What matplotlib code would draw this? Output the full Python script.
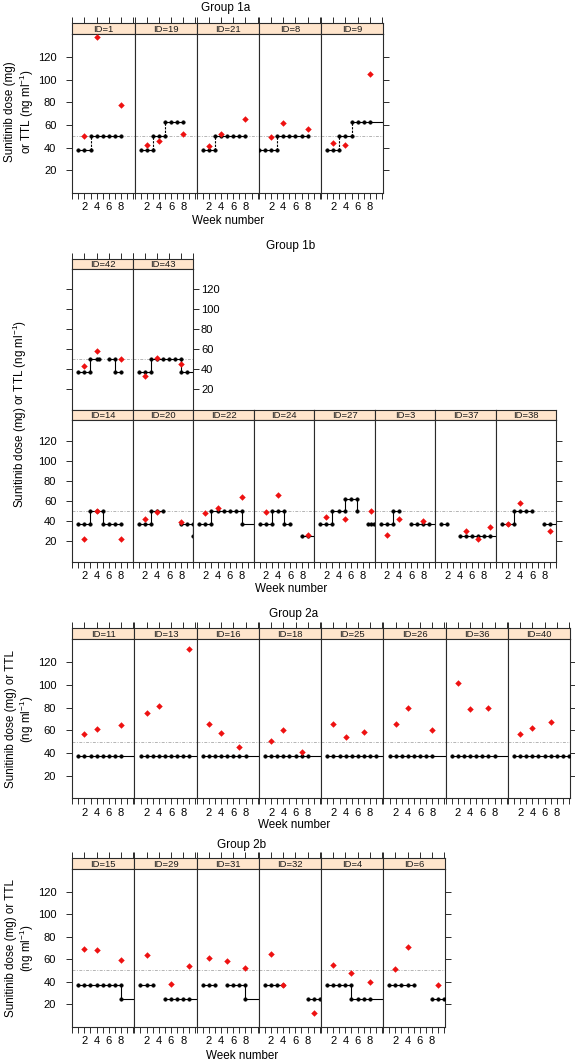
import numpy as np
import matplotlib
matplotlib.use("Agg")
import matplotlib.pyplot as plt

# ── data: dose steps (black) and trough levels (red) per patient ─────────────
# None breaks the dose line (missing weeks); points past the axis edge only
# make the line run out of the panel.
g1a_ids = ["ID=1", "ID=19", "ID=21", "ID=8", "ID=9"]
g1a_dose_wk = [
    [1, 2, 3, 3, 4, 5, 6, 7, 8],
    [1, 2, 3, 3, 4, 5, 5, 6, 7, 8],
    [1, 2, 3, 3, 4, 5, 6, 7, 8],
    [0, 1, 2, 3, 3, 4, 5, 6, 7, 8],
    [1, 2, 3, 3, 4, 5, 5, 6, 7, 8, 11],
]
g1a_dose_mg = [
    [37.5, 37.5, 37.5, 50, 50, 50, 50, 50, 50],
    [37.5, 37.5, 37.5, 50, 50, 50, 62.5, 62.5, 62.5, 62.5],
    [37.5, 37.5, 37.5, 50, 50, 50, 50, 50, 50],
    [37.5, 37.5, 37.5, 37.5, 50, 50, 50, 50, 50, 50],
    [37.5, 37.5, 37.5, 50, 50, 50, 62.5, 62.5, 62.5, 62.5, 62.5],
]
g1a_ttl_wk = [[2, 4, 8], [2, 4, 8], [2, 4, 8], [2, 4, 8], [2, 4, 8]]
g1a_ttl = [[50, 138, 78], [42, 46, 52], [41, 52, 65], [49.5, 62, 56], [44, 42, 105]]

g1b_ids = ["ID=42", "ID=43", "ID=14", "ID=20", "ID=22", "ID=24", "ID=27",
           "ID=3", "ID=37", "ID=38"]
g1b_dose_wk = [
    [1, 2, 3, 3, 4, 4.4, None, 6, 7, 7, 8],
    [1, 2, 3, 3, 4, 5, 6, 7, 8, 8, 9, 11],
    [1, 2, 3, 3, 4, 5, 5, 6, 7, 8],
    [1, 2, 3, 3, 4, 5, None, 8, 9, 10, 10],
    [1, 2, 3, 3, 4, 5, 6, 7, 8, 8, 11],
    [1, 2, 3, 3, 4, 5, 5, 6, None, 8, 9, 11],
    [1, 2, 3, 3, 4, 5, 5, 6, 7, 7, None, 8.8, 9.3, 9.8],
    [1, 2, 3, 3, 4, None, 6, 7, 8, 9, 11],
    [1, 2, None, 4, 5, 6, 7, 8, 9, 11],
    [1, 2, 3, 3, 4, 5, 6, None, 8, 9, 11],
]
g1b_dose_mg = [
    [37.5, 37.5, 37.5, 50, 50, 50, None, 50, 50, 37.5, 37.5],
    [37.5, 37.5, 37.5, 50, 50, 50, 50, 50, 50, 37.5, 37.5, 37.5],
    [37.5, 37.5, 37.5, 50, 50, 50, 37.5, 37.5, 37.5, 37.5],
    [37.5, 37.5, 37.5, 50, 50, 50, None, 37.5, 37.5, 37.5, 25],
    [37.5, 37.5, 37.5, 50, 50, 50, 50, 50, 50, 37.5, 37.5],
    [37.5, 37.5, 37.5, 50, 50, 50, 37.5, 37.5, None, 25, 25, 25],
    [37.5, 37.5, 37.5, 50, 50, 50, 62.5, 62.5, 62.5, 50, None, 37.5, 37.5, 37.5],
    [37.5, 37.5, 37.5, 50, 50, None, 37.5, 37.5, 37.5, 37.5, 37.5],
    [37.5, 37.5, None, 25, 25, 25, 25, 25, 25, 25],
    [37.5, 37.5, 37.5, 50, 50, 50, 50, None, 37.5, 37.5, 37.5],
]
g1b_ttl_wk = [[2, 4, 8], [2, 4, 8], [2, 4, 8], [2, 4, 8], [2, 4, 8],
              [2, 4, 9], [2, 5, 9.3], [2, 4, 8], [5, 7, 9], [2, 4, 9]]
g1b_ttl = [[43, 58, 50], [33, 51, 45], [22, 50, 22], [42, 49, 39], [48, 53, 64],
           [49, 66, 26], [44, 42, 50], [26, 42, 40], [30, 22, 34], [37.5, 58, 30]]

g2a_ids = ["ID=11", "ID=13", "ID=16", "ID=18", "ID=25", "ID=26", "ID=36", "ID=40"]
g2a_dose_wk = [
    [1, 2, 3, 4, 5, 6, 7, 8, 11],
    [1, 2, 3, 4, 5, 6, 7, 8, 9, 11],
    [1, 2, 3, 4, 5, 6, 7, 8, 11],
    [1, 2, 3, 4, 5, 6, 7, 8, 11],
    [1, 2, 3, 4, 5, 6, 7, 8, 9, 11],
    [1, 2, 3, 4, 5, 6, 7, 8, 11],
    [1, 2, 3, 4, 5, 6, 7, 8, 11],
    [1, 2, 3, 4, 5, 6, 7, 8, 9, 10, 11],
]
g2a_dose_mg = [[37.5] * len(w) for w in g2a_dose_wk]
g2a_ttl_wk = [[2, 4, 8], [2, 4, 9], [2, 4, 7], [2, 4, 7],
              [2, 4, 7], [2, 4, 8], [2, 4, 7], [2, 4, 7]]
g2a_ttl = [[57, 61, 65], [75, 82, 132], [66, 58, 45], [51, 60, 41],
           [66, 54, 59], [66, 80, 60], [102, 79, 80], [57, 62, 67]]

g2b_ids = ["ID=15", "ID=29", "ID=31", "ID=32", "ID=4", "ID=6"]
g2b_dose_wk = [
    [1, 2, 3, 4, 5, 6, 7, 8, 8, 11],
    [1, 2, 3, None, 5, 6, 7, 8, 9, 11],
    [1, 2, 3, None, 5, 6, 7, 8, 8, 11],
    [1, 2, 3, 4, None, 8, 9, 10],
    [1, 2, 3, 4, 5, 5, 6, 7, 8, 11],
    [1, 2, 3, 4, 5, None, 8, 9, 10],
]
g2b_dose_mg = [
    [37.5, 37.5, 37.5, 37.5, 37.5, 37.5, 37.5, 37.5, 25, 25],
    [37.5, 37.5, 37.5, None, 25, 25, 25, 25, 25, 25],
    [37.5, 37.5, 37.5, None, 37.5, 37.5, 37.5, 37.5, 25, 25],
    [37.5, 37.5, 37.5, 37.5, None, 25, 25, 25],
    [37.5, 37.5, 37.5, 37.5, 37.5, 25, 25, 25, 25, 25],
    [37.5, 37.5, 37.5, 37.5, 37.5, None, 25, 25, 25],
]
g2b_ttl_wk = [[2, 4, 8], [2, 6, 9], [2, 5, 8], [2, 4, 9], [2, 5, 8], [2, 4, 9]]
g2b_ttl = [[69, 68.5, 59], [64, 38, 54], [61, 58, 52], [65, 37.5, 12.5],
           [55, 48, 40], [51, 71, 37]]

YTICKS = [20, 40, 60, 80, 100, 120]
XLABELS = {2: "2", 4: "4", 6: "6", 8: "8"}

# ── style ────────────────────────────────────────────────────────────────────
plt.rcParams["font.family"] = ["Liberation Sans", "DejaVu Sans"]
plt.rcParams["mathtext.fontset"] = "custom"
plt.rcParams["mathtext.rm"] = "Liberation Sans"
plt.rcParams["mathtext.it"] = "Liberation Sans:italic"

W, H = 575, 1064
STRIP_COL = "#ffe5cc"
EDGE = "#2b2b2b"
RED = "#ee1111"
YMAX = 140.5
FS_TICK = 8.0
FS_LAB = 8.4
FS_TITLE = 8.5
FS_STRIP = 6.8

fig = plt.figure(figsize=(W / 100, H / 100), dpi=100)


def box(x, y, w, h):
    # axes from pixel coordinates measured from the top-left corner
    return fig.add_axes([x / W, 1 - (y + h) / H, w / W, h / H])


def nan_list(v):
    return np.array([np.nan if a is None else a for a in v], dtype=float)


def panel(x, y, w, h, sh, label, dwk, dmg, twk, ttl, xmax, vdash=False):
    st = box(x, y - sh, w, sh)
    st.set_facecolor(STRIP_COL)
    st.set_xlim(0, xmax)
    st.set_ylim(0, 1)
    st.set_xticks([])
    st.set_yticks([])
    st.text(0.5, 0.45, label, transform=st.transAxes, ha="center", va="center",
            fontsize=FS_STRIP, color="#1a1a1a")

    ax = box(x, y, w, h)
    ax.set_xlim(0, xmax)
    ax.set_ylim(0, YMAX)
    ax.axhline(50, color="#b5b5b5", lw=0.7, ls=(0, (3, 1.5, 1, 1.5)), zorder=1)
    xs, ys = nan_list(dwk), nan_list(dmg)
    for i in range(len(xs) - 1):
        if np.isnan(xs[i]) or np.isnan(xs[i + 1]):
            continue
        vert = xs[i] == xs[i + 1]
        ls = (0, (2, 1.2)) if (vert and vdash) else "-"
        ax.plot(xs[i:i + 2], ys[i:i + 2], color="k", lw=0.8, ls=ls, zorder=2)
    ax.plot(xs, ys, "o", ms=2.6, color="k", mec="k", mew=0.3, zorder=3)
    ax.plot(twk, ttl, "D", ms=3.3, color=RED, mec="none", zorder=4)
    ax.set_xticks([])
    ax.set_yticks([])
    for a in (ax, st):
        for s in a.spines.values():
            s.set_color(EDGE)
            s.set_linewidth(0.8)
    return ax, st


def top_ticks(st):
    st.set_xticks(range(0, 11, 2))
    st.tick_params(axis="x", top=True, bottom=False, labeltop=False,
                   labelbottom=False, direction="out", length=4, width=0.7,
                   color=EDGE)


def bottom_ticks(ax):
    ax.set_xticks(range(0, 11))
    ax.set_xticklabels([XLABELS.get(k, "") for k in range(0, 11)])
    ax.tick_params(axis="x", bottom=True, direction="out", length=4, width=0.7,
                   pad=3, labelsize=FS_TICK, color=EDGE)


def y_ticks(ax, side, labels):
    ax.set_yticks(YTICKS)
    kw = dict(left=False, right=False, labelleft=False, labelright=False)
    kw[side] = True
    if labels:
        kw["label" + side] = True
    ax.tick_params(axis="y", direction="out", length=4, width=0.7,
                   pad=7.5 if side == "left" else 1.5, labelsize=FS_TICK,
                   color=EDGE, **kw)


def row(x0, y0, pw, ph, sh, ids, dwk, dmg, twk, ttl, xmax, vdash=False):
    out = []
    for i in range(len(ids)):
        out.append(panel(x0 + i * pw, y0, pw, ph, sh, ids[i], dwk[i], dmg[i],
                         twk[i], ttl[i], xmax, vdash))
    return out


def ftext(x, y, s, **kw):
    fig.text(x / W, 1 - y / H, s, ha="center", va="center", **kw)


UNIT = "(ng ml$^{-1}$)"

# Group 1a
p = row(72.3, 34, 62.2, 158.7, 10.7, g1a_ids, g1a_dose_wk, g1a_dose_mg,
        g1a_ttl_wk, g1a_ttl, 10.2, vdash=True)
for ax, st in p:
    top_ticks(st)
    bottom_ticks(ax)
y_ticks(p[0][0], "left", True)
y_ticks(p[-1][0], "right", False)
ftext(226, 7.5, "Group 1a", fontsize=FS_TITLE)
ftext(228, 221.5, "Week number", fontsize=FS_LAB)
ftext(20, 112, "Sunitinib dose (mg)\nor TTL " + UNIT, rotation=90,
      fontsize=FS_LAB, linespacing=1.1)

# Group 1b, two rows
up = row(72.3, 268.5, 60.5, 141, 9.7, g1b_ids[:2], g1b_dose_wk[:2],
         g1b_dose_mg[:2], g1b_ttl_wk[:2], g1b_ttl[:2], 10.0)
for ax, st in up:
    top_ticks(st)
y_ticks(up[0][0], "left", False)
y_ticks(up[-1][0], "right", True)
lo = row(72.3, 420, 60.5, 141.5, 10.5, g1b_ids[2:], g1b_dose_wk[2:],
         g1b_dose_mg[2:], g1b_ttl_wk[2:], g1b_ttl[2:], 10.0)
for ax, st in lo:
    bottom_ticks(ax)
y_ticks(lo[0][0], "left", True)
y_ticks(lo[-1][0], "right", False)
ftext(291, 246, "Group 1b", fontsize=FS_TITLE)
ftext(291, 589, "Week number", fontsize=FS_LAB)
ftext(20, 414, "Sunitinib dose (mg) or TTL " + UNIT, rotation=90, fontsize=FS_LAB)

# Group 2a
p = row(72.2, 639.3, 62.25, 159, 11, g2a_ids, g2a_dose_wk, g2a_dose_mg,
        g2a_ttl_wk, g2a_ttl, 10.2)
for ax, st in p:
    top_ticks(st)
    bottom_ticks(ax)
y_ticks(p[0][0], "left", True)
y_ticks(p[-1][0], "right", False)
ftext(294, 614, "Group 2a", fontsize=FS_TITLE)
ftext(294, 825, "Week number", fontsize=FS_LAB)
ftext(20.5, 719, "Sunitinib dose (mg) or TTL\n" + UNIT, rotation=90,
      fontsize=FS_LAB, linespacing=1.1)

# Group 2b
p = row(72.2, 868.7, 62.2, 158, 10.4, g2b_ids, g2b_dose_wk, g2b_dose_mg,
        g2b_ttl_wk, g2b_ttl, 10.2)
for ax, st in p:
    top_ticks(st)
    bottom_ticks(ax)
y_ticks(p[0][0], "left", True)
y_ticks(p[-1][0], "right", False)
ftext(242, 845, "Group 2b", fontsize=FS_TITLE)
ftext(242, 1056, "Week number", fontsize=FS_LAB)
ftext(20.5, 948, "Sunitinib dose (mg) or TTL\n" + UNIT, rotation=90,
      fontsize=FS_LAB, linespacing=1.1)

fig.savefig("out.png", dpi=100)
